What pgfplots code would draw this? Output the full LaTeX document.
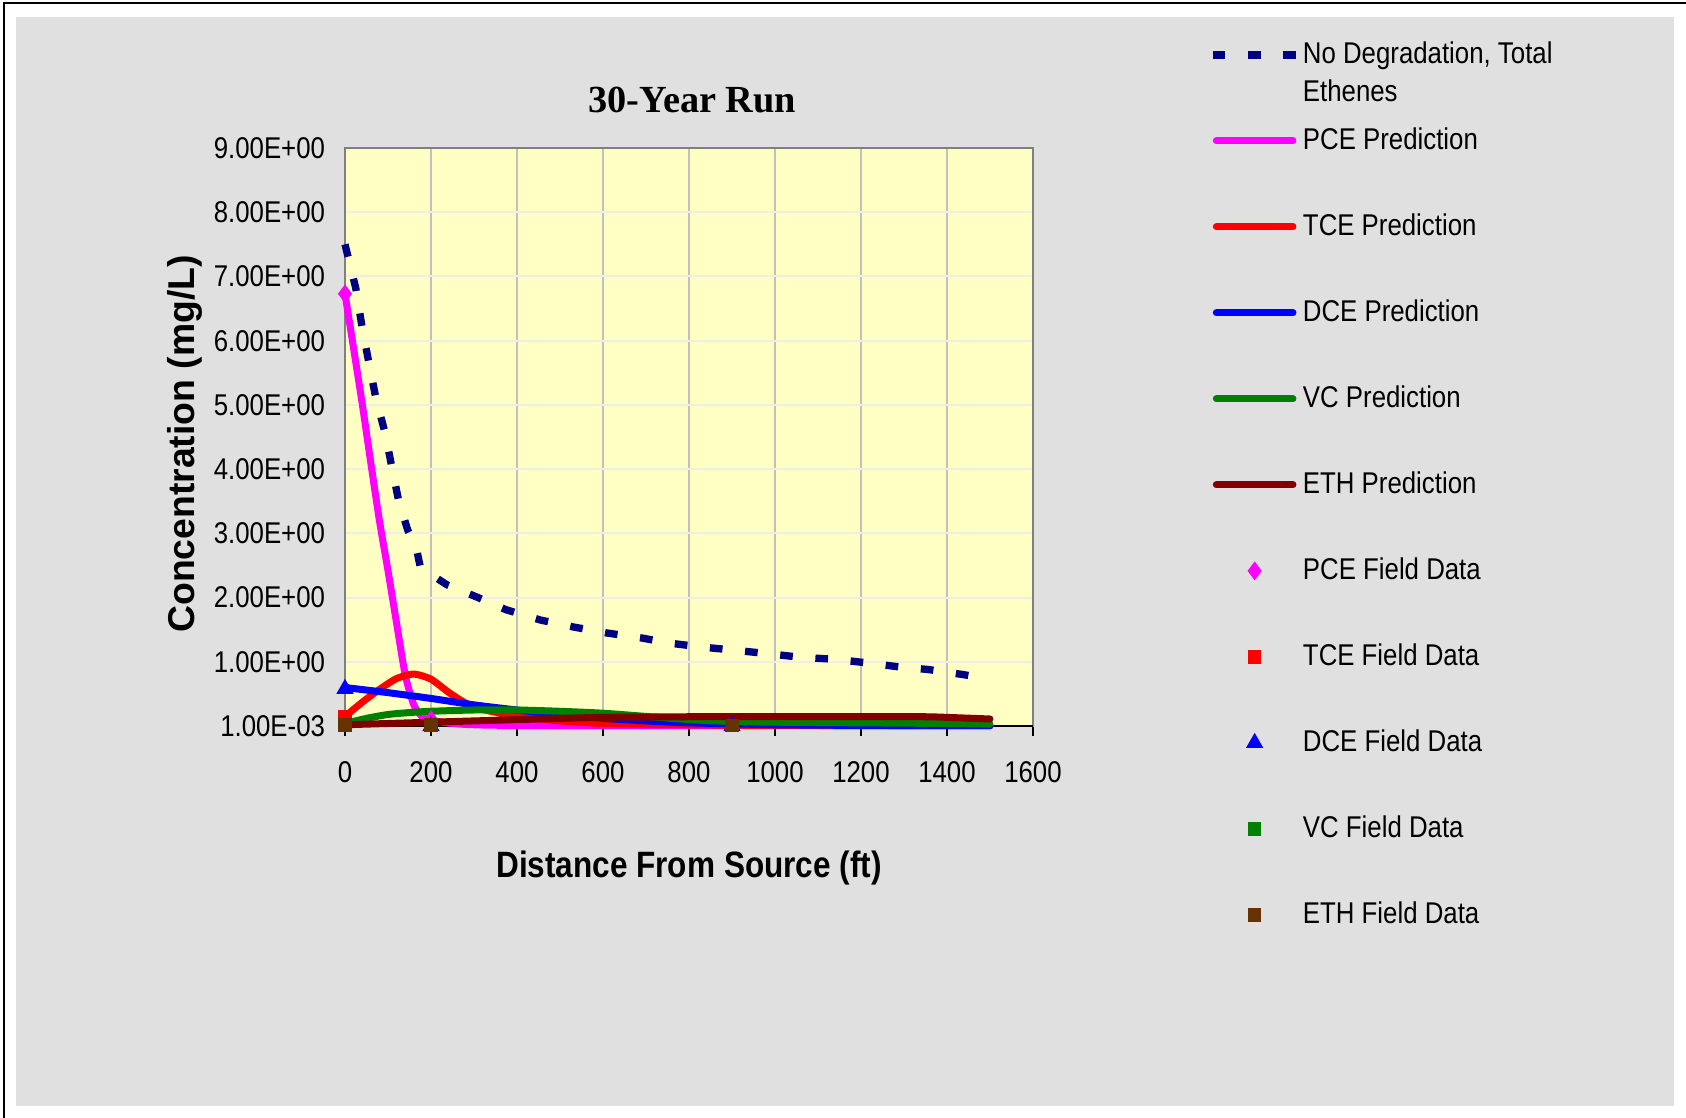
\documentclass[border=0pt]{standalone}
\usepackage{pgfplots}
\pgfplotsset{compat=1.18}
\usepackage{fontspec}
\setmainfont{Liberation Sans}[FakeStretch=0.86]
\newfontfamily\widesans{Liberation Sans}
\newfontfamily\titleserif{Liberation Serif}

\definecolor{chartgrey}{RGB}{224,224,224}
\definecolor{plotyellow}{RGB}{255,255,196}
\definecolor{navyline}{RGB}{0,0,128}
\definecolor{pcemag}{RGB}{255,0,255}
\definecolor{tcered}{RGB}{255,0,0}
\definecolor{dceblue}{RGB}{0,0,255}
\definecolor{ethred}{RGB}{128,0,0}
\definecolor{ethbrown}{RGB}{102,51,0}
\definecolor{vcgreen}{RGB}{0,128,0}
\definecolor{hgrid}{RGB}{238,238,230}
\definecolor{vgrid}{RGB}{192,192,192}
\definecolor{framegrey}{RGB}{128,128,128}

% legend image for the dashed series: full length, three whole dashes
\pgfplotsset{dashlegend/.style={legend image code/.code={%
    \draw[##1] (-1.05pt,0pt) -- (24.15pt,0pt);}}}

\begin{document}
\begin{tikzpicture}[x=0.3pt,y=0.3pt]
% page frame (1 unit = 1 px of the reference)
\path[use as bounding box] (0,0) rectangle (1686,1118);
\fill[white] (0,0) rectangle (1686,1118);
\draw[black, line width=0.6pt] (4,0) -- (4,1114.5) -- (1686,1114.5);
\fill[chartgrey] (16,12) rectangle (1674,1101);
\coordinate (plotorigin) at (345,392);

\begin{axis}[
    at={(plotorigin)}, anchor=south west,
    scale only axis, width=206.4pt, height=173.4pt,
    xmin=0, xmax=1600, ymin=0.001, ymax=9,
    clip=false,
    axis background/.style={fill=plotyellow},
    axis line style={framegrey, line width=0.5pt},
    xtick={0,200,400,600,800,1000,1200,1400,1600},
    xticklabels={0,200,400,600,800,1000,1200,1400,1600},
    ytick={0.001,1,2,3,4,5,6,7,8,9},
    yticklabels={1.00E-03,1.00E+00,2.00E+00,3.00E+00,4.00E+00,5.00E+00,6.00E+00,7.00E+00,8.00E+00,9.00E+00},
    xmajorgrids, ymajorgrids,
    major x grid style={vgrid, line width=0.4pt},
    major y grid style={hgrid, line width=0.6pt},
    tick align=outside, xtick pos=left, major tick length=3pt,
    xtick style={black, line width=0.7pt},
    ytick style={draw=none},
    /pgf/number format/assume math mode=true,
    tick label style={font=\fontsize{9}{10}\selectfont},
    xticklabel style={anchor=north, inner sep=0pt, yshift=-7.4pt},
    yticklabel style={anchor=east, inner sep=0pt, xshift=-2.8pt},
    title={30-Year Run},
    title style={at={(axis description cs:0.505,1.0484)}, anchor=center,
        font=\titleserif\bfseries\fontsize{11.5}{13}\selectfont},
    xlabel={Distance From Source (ft)},
    xlabel style={at={(axis description cs:0.5,-0.2457)}, anchor=center,
        font=\bfseries\fontsize{11}{13}\selectfont},
    ylabel={Concentration (mg/L)},
    ylabel style={at={(axis description cs:-0.2326,0.488)}, anchor=center,
        font=\widesans\bfseries\fontsize{11.2}{13}\selectfont},
    legend cell align=left,
    legend image code/.code={\draw[mark repeat=2,mark phase=2,#1]
        plot coordinates {(0pt,0pt) (11.5pt,0pt) (23pt,0pt)};},
    legend style={at={(axis description cs:1.2551,1.1882)}, anchor=north west,
        draw=none, fill=none, inner sep=0pt, row sep=16.8pt, column sep=0.75pt,
        nodes={inner sep=0pt, text height=7pt, text depth=2pt,
            font=\fontsize{9}{11.7}\selectfont}},
    pred/.style={line width=2.1pt, line cap=round, line join=round, no marks,
        smooth, tension=0.4},
    field/.style={only marks},
]
% black x axis line under the data
\draw[black, line width=0.7pt] (rel axis cs:0,0) -- (rel axis cs:1,0);

% no degradation, total ethenes
\addplot[navyline, line width=2.2pt, dash pattern=on 3.8pt off 6.8pt, no marks,
    dashlegend]
coordinates {
 (0,7.5) (25,6.82) (40,6.2) (56,5.64) (72,5.1) (93,4.57) (109,4.03)
 (125,3.5) (146,3.05) (165,2.8) (175,2.48) (200,2.36) (237,2.2) (306,2.01)
 (375,1.81) (455,1.65) (533,1.54) (608,1.45) (691,1.37) (756,1.29)
 (830,1.23) (907,1.18) (993,1.12) (1060,1.07) (1139,1.04) (1206,0.99)
 (1290,0.92) (1357,0.88) (1439,0.80) (1465,0.77)
};
\addlegendentry{\raisebox{0pt}[\height][0pt]{\begin{tabular}[t]{@{}l@{}}No Degradation, Total\\[-0.2pt]Ethenes\end{tabular}}}

% predictions
\addplot[pred, pcemag] coordinates {
 (0,6.73) (20,5.88) (40,5.02) (60,4.1) (80,3.2) (100,2.42) (120,1.6)
 (140,0.8) (160,0.33) (180,0.14) (200,0.09) (250,0.04) (300,0.02)
 (400,0.01) (800,0.005) (1500,0.005)
};
\addlegendentry{PCE Prediction}

\addplot[pred, tcered] coordinates {
 (0,0.15) (40,0.37) (80,0.57) (120,0.74) (160,0.81) (200,0.73) (240,0.53)
 (280,0.36) (320,0.26) (360,0.2) (400,0.15) (500,0.08) (600,0.04)
 (800,0.02) (1000,0.01) (1500,0.005)
};
\addlegendentry{TCE Prediction}

\addplot[pred, dceblue] coordinates {
 (0,0.6) (100,0.52) (200,0.43) (300,0.33) (400,0.25) (500,0.18) (600,0.12)
 (700,0.08) (800,0.05) (900,0.035) (1000,0.02) (1200,0.01) (1500,0.005)
};
\addlegendentry{DCE Prediction}

\addplot[pred, vcgreen] coordinates {
 (0,0.04) (50,0.12) (100,0.18) (150,0.21) (200,0.23) (300,0.25) (400,0.25)
 (500,0.23) (600,0.2) (700,0.15) (800,0.1) (900,0.07) (1000,0.06)
 (1200,0.05) (1400,0.04) (1500,0.03)
};
\addlegendentry{VC Prediction}

\addplot[pred, ethred] coordinates {
 (0,0.02) (100,0.04) (200,0.06) (300,0.08) (400,0.1) (500,0.12) (600,0.135)
 (700,0.14) (800,0.145) (1000,0.145) (1200,0.145) (1350,0.145)
 (1420,0.13) (1500,0.11)
};
\addlegendentry{ETH Prediction}

% field data
\addplot[field, pcemag, mark=diamond*, mark size=2.5pt] coordinates {
 (0,6.73) (200,0.1)
};
\addlegendentry{PCE Field Data}

\addplot[field, tcered, mark=square*, mark size=1.85pt] coordinates {
 (0,0.15)
};
\addlegendentry{TCE Field Data}

\addplot[field, dceblue, mark=triangle*, mark size=2.6pt] coordinates {
 (0,0.58) (200,0.0) (900,0.0)
};
\addlegendentry{DCE Field Data}

\addplot[field, vcgreen, mark=square*, mark size=1.85pt] coordinates {
 (0,0.02) (200,0.02) (900,0.01)
};
\addlegendentry{VC Field Data}

\addplot[field, ethbrown, mark=square*, mark size=1.85pt] coordinates {
 (0,0.016) (200,0.02) (900,0.01)
};
\addlegendentry{ETH Field Data}
\end{axis}
\end{tikzpicture}
\end{document}
